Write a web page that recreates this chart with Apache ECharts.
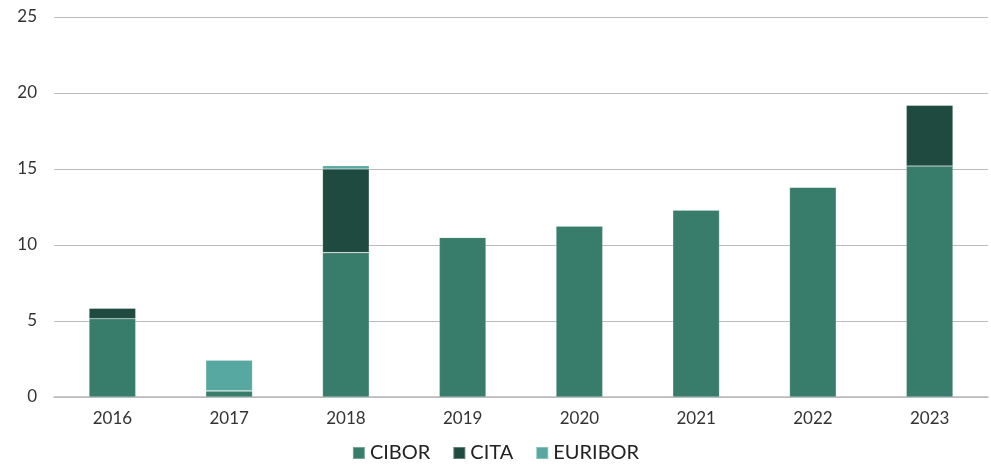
<!DOCTYPE html>
<html>
<head>
<meta charset="utf-8">
<script src="https://cdn.jsdelivr.net/npm/echarts@6/dist/echarts.min.js"></script>
<style>
  html, body { margin: 0; padding: 0; background: #fff; }
  #chart { width: 991px; height: 469px; }
</style>
</head>
<body>
<div id="chart"></div>
<script>
const years = ["2016", "2017", "2018", "2019", "2020", "2021", "2022", "2023"];
const cibor = [5.15, 0.4, 9.5, 10.5, 11.25, 12.3, 13.8, 15.2];
const cita = [0.7, 0, 5.5, 0, 0, 0, 0, 4.0];
const euribor = [0, 2.02, 0.22, 0, 0, 0, 0, 0];

const chart = echarts.init(document.getElementById("chart"));
const font = "Lato, 'DejaVu Sans', sans-serif";

const barStyle = (color) => ({ color: color, borderColor: "rgba(255,255,255,0.3)", borderWidth: 0.6 });

chart.setOption({
  animation: false,
  textStyle: { fontFamily: font },
  grid: { left: 54, right: 3, top: 17, bottom: 72 },
  legend: {
    bottom: 1,
    left: "center",
    itemWidth: 12,
    itemHeight: 12,
    itemGap: 22,
    icon: "rect",
    textStyle: { fontSize: 20, color: "#222", fontFamily: font },
    data: ["CIBOR", "CITA", "EURIBOR"]
  },
  xAxis: {
    type: "category",
    data: years,
    axisTick: { show: false },
    axisLine: { lineStyle: { color: "#bbbbbf", width: 1.5 } },
    axisLabel: { fontSize: 17, color: "#333", margin: 13 }
  },
  yAxis: {
    type: "value",
    min: 0,
    max: 25,
    interval: 5,
    axisLabel: { fontSize: 17, color: "#333", margin: 17 },
    splitLine: { lineStyle: { color: "#bbbbbf", width: 1.2 } },
    axisLine: { show: false },
    axisTick: { show: false }
  },
  series: [
    { name: "CIBOR", type: "bar", stack: "t", data: cibor, barWidth: "40%", itemStyle: barStyle("#387d6b") },
    { name: "CITA", type: "bar", stack: "t", data: cita, itemStyle: barStyle("#1f4a40") },
    { name: "EURIBOR", type: "bar", stack: "t", data: euribor, itemStyle: barStyle("#57a8a0") }
  ]
});
</script>
</body>
</html>
